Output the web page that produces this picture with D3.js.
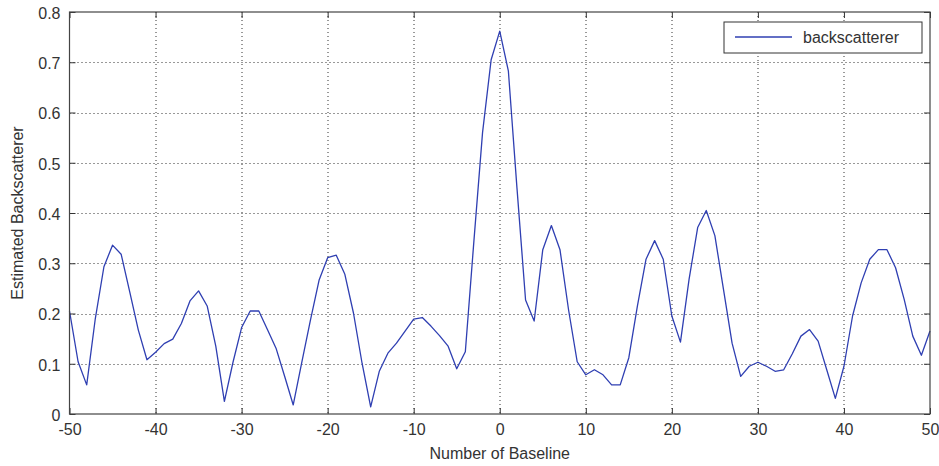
<!DOCTYPE html>
<html lang="en">
<head>
    <meta charset="UTF-8">
    <title>Estimated Backscatterer</title>
    <script src="https://cdnjs.cloudflare.com/ajax/libs/d3/7.8.5/d3.min.js"></script>
    <style>
        body { margin: 0; background: #fff; }
        text { font-family: Arial, "Liberation Sans", sans-serif; }
    </style>
</head>
<body>
    <div id="wrapper"></div>
    <script>
        // baseline number (x) and estimated backscatter (y)
        const baselines = [
            -50, -49, -48, -47, -46, -45, -44, -43, -42, -41,
            -40, -39, -38, -37, -36, -35, -34, -33, -32, -31,
            -30, -29, -28, -27, -26, -25, -24, -23, -22, -21,
            -20, -19, -18, -17, -16, -15, -14, -13, -12, -11,
            -10, -9, -8, -7, -6, -5, -4, -3, -2, -1,
            0, 1, 2, 3, 4, 5, 6, 7, 8, 9,
            10, 11, 12, 13, 14, 15, 16, 17, 18, 19,
            20, 21, 22, 23, 24, 25, 26, 27, 28, 29,
            30, 31, 32, 33, 34, 35, 36, 37, 38, 39,
            40, 41, 42, 43, 44, 45, 46, 47, 48, 49,
            50
        ]
        const backscatter = [
            0.205, 0.104, 0.058, 0.190, 0.293, 0.336, 0.318, 0.243, 0.167, 0.108,
            0.123, 0.140, 0.149, 0.180, 0.225, 0.245, 0.215, 0.135, 0.025, 0.103,
            0.172, 0.205, 0.205, 0.168, 0.131, 0.075, 0.018, 0.103, 0.187, 0.266,
            0.311, 0.316, 0.278, 0.201, 0.101, 0.014, 0.085, 0.121, 0.141, 0.165,
            0.189, 0.192, 0.175, 0.156, 0.135, 0.090, 0.124, 0.345, 0.560, 0.705,
            0.762, 0.683, 0.450, 0.227, 0.185, 0.327, 0.375, 0.327, 0.207, 0.104,
            0.078, 0.088, 0.078, 0.058, 0.058, 0.112, 0.215, 0.308, 0.345, 0.308,
            0.195, 0.143, 0.268, 0.371, 0.405, 0.355, 0.248, 0.141, 0.075, 0.095,
            0.103, 0.095, 0.085, 0.088, 0.120, 0.155, 0.168, 0.145, 0.088, 0.031,
            0.095, 0.195, 0.261, 0.308, 0.327, 0.327, 0.291, 0.228, 0.155, 0.117,
            0.165
        ]
        const xTicks = [-50, -40, -30, -20, -10, 0, 10, 20, 30, 40, 50]
        const yTicks = [0, 0.1, 0.2, 0.3, 0.4, 0.5, 0.6, 0.7, 0.8]
        const seriesName = 'backscatterer'

        function drawChart() {
            const dataset = baselines.map((b, i) => [b, backscatter[i]])
            const xAccessor = d => d[0]
            const yAccessor = d => d[1]

            let dimensions = {
                width: 939,
                height: 466,
                margin: { top: 12, right: 9, bottom: 52, left: 69.5 }
            }
            dimensions.boundedWidth = dimensions.width - dimensions.margin.left - dimensions.margin.right
            dimensions.boundedHeight = dimensions.height - dimensions.margin.top - dimensions.margin.bottom

            const wrapper = d3.select('#wrapper')
                .append('svg')
                    .attr('width', dimensions.width)
                    .attr('height', dimensions.height)

            const bounds = wrapper.append('g')
                .attr('transform', `translate(${dimensions.margin.left},${dimensions.margin.top})`)

            const xScale = d3.scaleLinear()
                .domain([-50, 50])
                .range([0, dimensions.boundedWidth])

            const yScale = d3.scaleLinear()
                .domain([0, 0.8])
                .range([dimensions.boundedHeight, 0])

            // dotted grid
            const grid = bounds.append('g')
                .attr('stroke', '#333')
                .attr('stroke-width', 1)
                .attr('stroke-dasharray', '1,3')
            grid.selectAll('.vgrid')
                .data(xTicks.slice(1, -1))
                .join('line')
                    .attr('x1', d => Math.round(xScale(d)) + 0.5)
                    .attr('x2', d => Math.round(xScale(d)) + 0.5)
                    .attr('y1', 0)
                    .attr('y2', dimensions.boundedHeight)
            grid.selectAll('.hgrid')
                .data(yTicks.slice(1, -1))
                .join('line')
                    .attr('y1', d => Math.round(yScale(d)) + 0.5)
                    .attr('y2', d => Math.round(yScale(d)) + 0.5)
                    .attr('x1', 0)
                    .attr('x2', dimensions.boundedWidth)

            // data line
            const lineGenerator = d3.line()
                .x(d => xScale(xAccessor(d)))
                .y(d => yScale(yAccessor(d)))
            bounds.append('path')
                .attr('d', lineGenerator(dataset))
                .attr('fill', 'none')
                .attr('stroke', '#2f3fb2')
                .attr('stroke-width', 1.3)
                .attr('stroke-linejoin', 'round')

            // axes, ticks point inwards like matlab
            const tickStyle = g => {
                g.select('.domain').remove()
                g.selectAll('.tick line').attr('stroke', '#333')
                g.selectAll('.tick text')
                    .attr('fill', '#333')
                    .style('font-size', '16px')
            }

            const xAxis = bounds.append('g')
                .attr('transform', `translate(0,${dimensions.boundedHeight})`)
                .call(d3.axisBottom(xScale).tickValues(xTicks).tickSizeInner(-6).tickSizeOuter(0).tickPadding(10)
                    .tickFormat(d => String(d)))
                .call(tickStyle)
            bounds.append('g')
                .call(d3.axisTop(xScale).tickValues(xTicks).tickSizeInner(-6).tickSizeOuter(0).tickFormat(''))
                .call(tickStyle)

            const yAxis = bounds.append('g')
                .call(d3.axisLeft(yScale).tickValues(yTicks).tickSizeInner(-6).tickSizeOuter(0).tickPadding(9)
                    .tickFormat(d => d === 0 ? '0' : d3.format('.1f')(d)))
                .call(tickStyle)
            yAxis.selectAll('.tick text').attr('dy', '0.4em')
            bounds.append('g')
                .attr('transform', `translate(${dimensions.boundedWidth},0)`)
                .call(d3.axisRight(yScale).tickValues(yTicks).tickSizeInner(-6).tickSizeOuter(0).tickFormat(''))
                .call(tickStyle)

            // box
            bounds.append('rect')
                .attr('x', 0)
                .attr('y', 0)
                .attr('width', dimensions.boundedWidth)
                .attr('height', dimensions.boundedHeight)
                .attr('fill', 'none')
                .attr('stroke', '#444')
                .attr('stroke-width', 1.2)

            // axis labels
            wrapper.append('text')
                .attr('x', dimensions.margin.left + dimensions.boundedWidth / 2)
                .attr('y', 459)
                .attr('text-anchor', 'middle')
                .attr('fill', '#333')
                .style('font-size', '16px')
                .text('Number of Baseline')

            wrapper.append('text')
                .attr('transform', `translate(23,${dimensions.margin.top + dimensions.boundedHeight / 2}) rotate(-90)`)
                .attr('text-anchor', 'middle')
                .attr('fill', '#333')
                .style('font-size', '16px')
                .text('Estimated Backscatterer')

            // legend
            const legend = wrapper.append('g')
                .attr('transform', 'translate(724,22)')
            legend.append('rect')
                .attr('width', 198)
                .attr('height', 31)
                .attr('fill', '#fff')
                .attr('stroke', '#333')
                .attr('stroke-width', 1)
            legend.append('line')
                .attr('x1', 11)
                .attr('x2', 68)
                .attr('y1', 15)
                .attr('y2', 15)
                .attr('stroke', '#2f3fb2')
                .attr('stroke-width', 1.3)
            legend.append('text')
                .attr('x', 79)
                .attr('y', 21)
                .attr('fill', '#333')
                .style('font-size', '16px')
                .text(seriesName)
        }

        drawChart()
    </script>
</body>
</html>
